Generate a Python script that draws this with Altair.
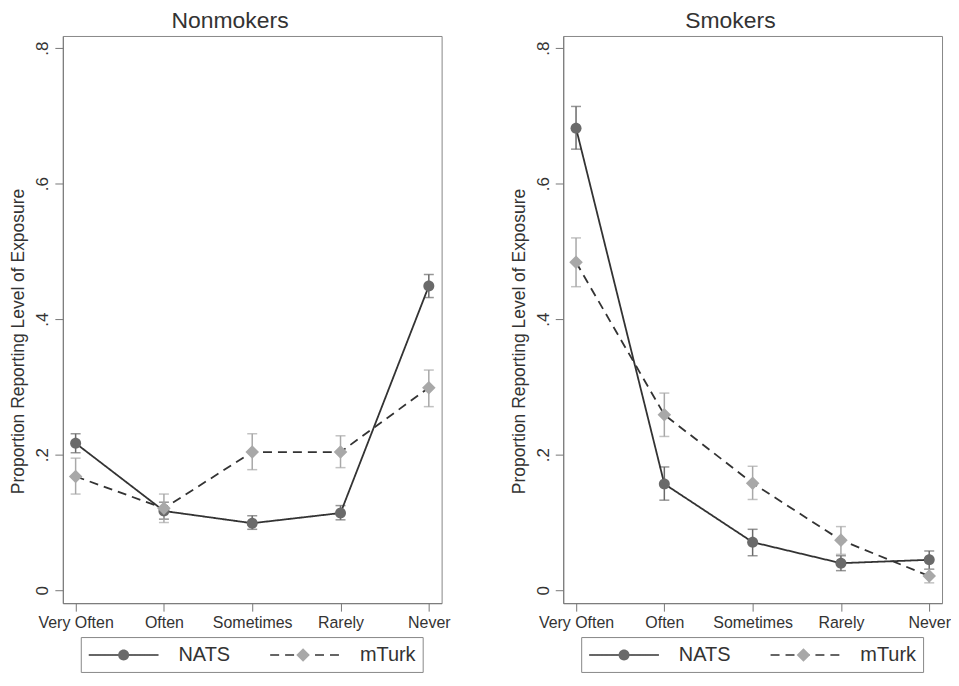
import altair as alt
import pandas as pd

categories = ["Very Often", "Often", "Sometimes", "Rarely", "Never"]
series_names = ["NATS", "mTurk"]
panel_titles = ["Nonmokers", "Smokers"]

# Nonsmokers
non_nats = [0.217, 0.117, 0.099, 0.114, 0.449]
non_nats_lo = [0.203, 0.105, 0.090, 0.104, 0.432]
non_nats_hi = [0.231, 0.130, 0.110, 0.125, 0.466]
non_mturk = [0.168, 0.121, 0.204, 0.204, 0.299]
non_mturk_lo = [0.142, 0.100, 0.178, 0.181, 0.271]
non_mturk_hi = [0.195, 0.142, 0.231, 0.228, 0.325]

# Smokers
smk_nats = [0.682, 0.157, 0.071, 0.040, 0.045]
smk_nats_lo = [0.651, 0.133, 0.051, 0.029, 0.031]
smk_nats_hi = [0.714, 0.182, 0.090, 0.051, 0.058]
smk_mturk = [0.484, 0.259, 0.158, 0.074, 0.021]
smk_mturk_lo = [0.448, 0.227, 0.134, 0.053, 0.011]
smk_mturk_hi = [0.520, 0.291, 0.183, 0.094, 0.031]

y_ticks = [0, 0.2, 0.4, 0.6, 0.8]

FONT = "Liberation Sans"
TEXT = "#333333"
ERR_COLORS = {"NATS": "#6a6a6a", "mTurk": "#a8a8a8"}
# marker shapes (unit paths; scaled by sqrt(size)/2)
CIRCLE = "M0.55,0 A0.55,0.55 0 1,1 -0.55,0 A0.55,0.55 0 1,1 0.55,0 Z"
DIAMOND = "M0,-0.68 L0.68,0 L0,0.68 L-0.68,0 Z"
LEGEND_LINE = "M-1,0 H6"


def make_frame(nats, nats_lo, nats_hi, mturk, mturk_lo, mturk_hi):
    rows = []
    for name, vals, los, his in [
        ("NATS", nats, nats_lo, nats_hi),
        ("mTurk", mturk, mturk_lo, mturk_hi),
    ]:
        for i, (c, v, lo, hi) in enumerate(zip(categories, vals, los, his)):
            rows.append(dict(category=c, idx=i, series=name, series_b=name,
                             value=v, lo=lo, hi=hi))
    return pd.DataFrame(rows)


def panel(df, title):
    yscale = alt.Scale(domain=[-0.019, 0.818], nice=False, zero=False)
    xscale = alt.Scale(type="point", domain=categories, padding=0.145)
    x = alt.X("category:N", scale=xscale, sort=categories,
              axis=alt.Axis(title=None, labelAngle=0, tickSize=8,
                            labelPadding=3, labelFontSize=16,
                            labelFont=FONT, labelColor=TEXT,
                            domainColor="#777", tickColor="#777",
                            grid=False))
    y_axis = alt.Axis(title="Proportion Reporting Level of Exposure",
                      values=y_ticks, grid=False, tickSize=8,
                      labelAngle=270, labelAlign="center",
                      labelBaseline="bottom", labelPadding=3,
                      labelFontSize=17, labelFont=FONT, labelColor=TEXT,
                      labelExpr="datum.value == 0 ? '0' : replace(format(datum.value, '.1f'), '0.', '.')",
                      titleFont=FONT, titleFontSize=17.5, titleFontWeight="normal",
                      titleColor=TEXT, titlePadding=6, titleY=306,
                      domainColor="#777", tickColor="#777")
    base = alt.Chart(df)
    err_layers = []
    for name in series_names:
        sub = base.transform_filter(alt.datum.series == name)
        col = ERR_COLORS[name]
        err_layers.append(sub.mark_rule(strokeWidth=1.5, color=col).encode(
            x=x, y=alt.Y("lo:Q", scale=yscale, axis=y_axis), y2="hi:Q"))
        err_layers.append(sub.mark_tick(orient="horizontal", size=10,
                                        thickness=1.5, color=col).encode(
            x=x, y=alt.Y("lo:Q", scale=yscale, axis=y_axis)))
        err_layers.append(sub.mark_tick(orient="horizontal", size=10,
                                        thickness=1.5, color=col).encode(
            x=x, y=alt.Y("hi:Q", scale=yscale, axis=y_axis)))
    legend_common = dict(orient="none", legendY=603,
                         direction="horizontal", title=None,
                         symbolSize=400, symbolStrokeWidth=1.6,
                         labelFontSize=20, labelFont=FONT, padding=7)
    lines = base.mark_line(color="#333333", strokeWidth=1.8).encode(
        x=x, y=alt.Y("value:Q", scale=yscale, axis=y_axis),
        strokeDash=alt.StrokeDash("series:N",
                                  scale=alt.Scale(domain=series_names,
                                                  range=[[1, 0], [9, 6]]),
                                  legend=alt.Legend(symbolType=LEGEND_LINE,
                                                    symbolStrokeColor="#333333",
                                                    labelColor=TEXT,
                                                    strokeColor="#888888",
                                                    legendX=18,
                                                    labelOffset=69,
                                                    columnPadding=36,
                                                    **legend_common)),
        order=alt.Order("idx:Q", sort="ascending"),
    )
    legend_b = alt.Legend(labelExpr="''", labelOffset=0, columnPadding=158,
                          symbolStrokeColor="transparent",
                          legendX=43, **legend_common)
    points = base.mark_point(filled=True, size=400, opacity=1,
                             strokeWidth=0).encode(
        x=x, y=alt.Y("value:Q", scale=yscale, axis=y_axis),
        shape=alt.Shape("series_b:N",
                        scale=alt.Scale(range=[CIRCLE, DIAMOND]),
                        legend=legend_b),
        fill=alt.Fill("series_b:N",
                      scale=alt.Scale(range=["#6a6a6a", "#a8a8a8"]),
                      legend=legend_b),
    )
    return alt.layer(*err_layers, lines, points).properties(
        width=380, height=569,
        title=alt.TitleParams(title, fontSize=23, font=FONT,
                              fontWeight="normal", color=TEXT,
                              anchor="middle", frame="bounds", offset=3),
    )


left = panel(make_frame(non_nats, non_nats_lo, non_nats_hi,
                        non_mturk, non_mturk_lo, non_mturk_hi), panel_titles[0])
right = panel(make_frame(smk_nats, smk_nats_lo, smk_nats_hi,
                         smk_mturk, smk_mturk_lo, smk_mturk_hi), panel_titles[1])

chart = alt.hconcat(left, right, spacing=59).resolve_scale(
    strokeDash="independent", shape="independent", fill="independent",
).resolve_legend(
    strokeDash="independent", shape="independent", fill="independent",
).properties(
    padding={"left": 1, "top": 0, "right": 0, "bottom": 0},
    background="white",
).configure_view(stroke="#888888", strokeWidth=1)

chart.save("out.html", embed_options={"renderer": "svg", "actions": False})
